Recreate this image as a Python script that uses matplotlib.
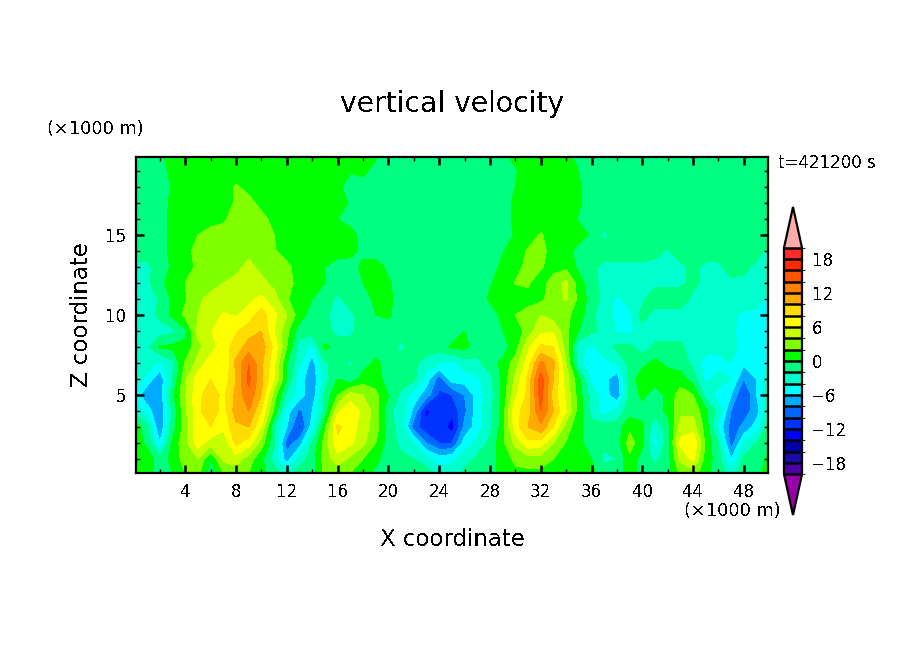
import matplotlib
matplotlib.use("Agg")
import matplotlib.pyplot as plt
from matplotlib.colors import ListedColormap, BoundaryNorm
import numpy as np

# grid, km
x_km = [0.125] + list(range(1, 50)) + [49.9]
z_km = [19.875] + list(range(19, 0, -1)) + [0.125]

w = [
    # z = 19.875
    [-1, -1, -0.5, 1, 1, 1, 1, 1, 1, 1,  1, 1, 1, 1, 1, 1, 1, 1, 1, 0.3,
     -1, -1, -1, -1, -1, -1, -1, -1, -1, -0.5,  0.5, -0.3, 1, 1, 1, -1, -1, -1, -1, -1,
     -1, -1, -1, -1, -1, -1, -1, -1, -1, -1, -1],
    # z = 19
    [-1, -1, -1, 0.6, 1, 1, 1, 1, 1, 1,  1, 1, 1, 1, 1, 1, 0.5, 0.2, 0.6, -1,
     -1, -1, -1, -1, -1, -1, -1, -1, -1, -1,  -0.2, 1, 1, 0.7, 1, 0, -1, -1, -1, -1,
     -1, -1, -1, -1, -1, -1, -1, -1, -1, -1, -1],
    # z = 18
    [-1, -1, -1, 0.2, 1, 1, 1, 1, 2.2, 1.5,  1, 1, 1, 1, 1, 1, 0.5, -1, -1, -1,
     -1, -1, -1, -1, -1, -1, -1, -1, -1, -1,  0, 1, 1, 1, 1, 0.2, -1, -1, -1, -1,
     -1, -1, -1, -1, -1, -1, -1, -1, -1, -1, -1],
    # z = 17
    [-1, -1, -1, 0.5, 1, 1, 1, 1, 2.3, 2.5,  1.5, 1, 1, 1, 1, 1, 0.8, -0.2, -1, -1,
     -1, -1, -1, -1, -1, -1, -1, -1, -1, -1,  0.5, 1, 1, 1, 1, 0.3, -1, -1, -1, -1,
     -1, -1, -1, -1, -1, -1, -1, -1, -1, -1, -1],
    # z = 16
    [-1, -1, -1, 0.7, 1, 1, 1, 1.8, 2.5, 3,  2.5, 1.5, 1, 1, 1, 1, 0, -1, -1, -1,
     -1, -1, -1, -1, -1, -1, -1, -1, -1, -1,  0.5, 1, 1, 1, 1, -0.2, -1, -1, -1, -1,
     -1, -1, -1, -1, -1, -1, -1, -1, -1, -1, -1],
    # z = 15
    [-1, -1, -1, 0.7, 1, 2, 3, 2.5, 3, 2.5,  3.5, 2, 1, 1, 1, 1, 1, 1, -1, -1,
     -1, -1, -1, -1, -1, -1, -1, -1, -1, -1,  0.2, 1, 2.2, 1, 1, 1, -0.3, -2.5, -1, -1,
     -1, -1, -1, -1, -1, -1, -1, -1, -1, -1, -1],
    # z = 14
    [-1, -1, -1, 0.7, 1.5, 2.5, 3, 3, 3.5, 3.5,  3.5, 2.2, 1, 1, 1, 1, 1, 0.7, -0.5, -1,
     -1, -1, -1, -1, -1, -1, -1, -1, -1, -0.2,  1, 2.2, 2.4, 1.5, 1, -1, -1, -1, -1, -1,
     -1, -1.5, -2.2, -1, -1, -1, -1, -1, -1, -1.2, -2.5],
    # z = 13
    [-2.5, -2.5, -1, 0.3, 1, 2.5, 3, 3, 3.5, 4.5,  3.5, 3, 2.5, 1, 1, 0, -1, -1, 0.5, 1,
     -0.5, -1, -1, -1, -1, -1, -1, -1, -1, 0.5,  1.5, 2.4, 2.2, 1.2, 1.5, -0.5, -1.5, -2.5, -2.5, -2.5,
     -2.5, -2.5, -2.5, -2.5, -1.5, -2.5, -2.5, -1, -1.5, -2.5, -3],
    # z = 12
    [-3, -2.5, -0.5, 0.8, 2, 3, 3, 4, 4.5, 5,  4.5, 3.5, 3, 1, 1, 0, -1, -1, 0, 1,
     0.3, -1, -1, -1, -1, -1, -1, -1, -0.2, 1,  2.1, 2.2, 1, 3, 4.5, 1, -1.5, -2.5, -2.5, -2.5,
     -2.5, -2.5, -2.5, -2.5, -1.5, -2.5, -2.5, -2.5, -2.5, -3, -3],
    # z = 11
    [-3, -3, -1.8, 0.5, 1.8, 3.5, 4.8, 5, 5, 5.5,  6.5, 4.8, 2.2, 0.8, 0, -1, -2.5, -1, -1, 0.5,
     0.5, -1, -1, -1, -1, -1, -1, -1, 0.3, 1,  1, 1.5, 1.5, 3.2, 4.2, 1.5, -1, -2.5, -4.5, -3,
     -2.5, -0.5, -0.5, -0.5, -2.5, -2.5, -2.5, -2.5, -2.5, -3, -4.5],
    # z = 10
    [-3.5, -3, -1.5, 0.5, 2.5, 4, 5, 6.2, 5.8, 7,  9, 6.5, 4, 1, -1, -1.5, -3, -2.5, -1, 0,
     0.3, -1, -1, -1, -1, -1, -1, -1, -1, 0.5,  2, 2.5, 4, 3, 2.5, 1, -1.5, -3.5, -4.2, -4.5,
     -1, -3, -3, -3, -3, -3, -3, -3.5, -4.5, -4.5, -5],
    # z = 9
    [-3, -3, -3, -2.5, -0.5, 4.5, 5.8, 7.5, 7.8, 9,  10, 6, 2.5, -1, -1, -1.5, -2.5, -2.5, -1, -1,
     -1, -1, -1, -1, -1, -1, 0, -1, -1, 0,  0.5, 3, 5.5, 5.8, 2.5, 0, -1.5, -2.5, -4.2, -4.5,
     -3, -3, -3, -3, -2.5, -2.5, -3, -3.5, -5, -5, -5],
    # z = 8
    [-2.5, -2.5, 0.2, 0.5, 0.5, 3.5, 5, 7.2, 8.8, 11,  11, 7.5, 2, -3, -4.5, 0.5, -1, -1, -1, -1,
     -1, -2.5, -1, -1, -1, 0.3, 0.6, -1, -1, -1,  1, 5.5, 8.5, 8, 3, -3.5, -4.5, -3, -1.5, -1.5,
     -3, -1.5, -1.5, -1.5, -3, -3, -3, -3, -5, -5, -5],
    # z = 7
    [-2.5, -2.5, -4.5, -2.5, 2.2, 4.6, 7.2, 5.8, 10.5, 14,  10.5, 6.5, 0, -3.5, -7, -2.2, -1.5, -2.2, -1, 0.5,
     -1, -1, -1.5, -2.8, -4, -4.5, -3, -2.5, -1, 0.5,  3, 7, 12.5, 10.5, 4, -3.5, -5, -4.5, -3.8, -1.5,
     -0.5, 0.5, -0.5, -1, -2.5, -5, -5, -4, -5.5, -5, -4],
    # z = 6
    [-3, -4.8, -7.5, -2, 3.5, 7, 8, 6.5, 10, 14.5,  10.5, 6, 0, -5, -7.5, -3, 0, -1.5, 1, 1,
     -1, -1, -1.5, -5, -9, -5, -5, -4.5, -2.5, 0.5,  4.5, 8.5, 15, 10, 5, 0.5, -4.5, -5.5, -7.2, -1,
     1, 1, 1, 1, -1, -4.5, -3, -4, -8, -6, -3],
    # z = 5
    [-5, -7.5, -7.5, -0.5, 3.8, 7.5, 9, 7.5, 10.5, 13.5,  10, 3, -2.5, -5, -7.5, -1.5, 2, 5, 4, 2.5,
     0, -2.5, -5, -7, -10.5, -10, -8, -5, -3, 0.5,  5.5, 8.5, 15, 9, 5.5, 1, -3, -5, -7.5, -1.5,
     0.5, -1, 0.5, 3, 2, -3, -5, -6, -10.5, -6, -2.5],
    # z = 4
    [-3, -5, -8, -1.5, 3.5, 7.5, 9.5, 7, 11, 12,  8, 1.5, -5, -8.5, -6, -1.5, 5.5, 7.5, 5.5, 3,
     -1.5, -3, -6.5, -12.6, -10.5, -11.5, -8.5, -5, -2.5, 1,  7.5, 8.8, 14, 10, 6, 1, -2.5, -5, -3.5, -1,
     -1, -1, 0.5, 3.5, 3.5, 0.5, -3, -8, -9, -7, -2.5],
    # z = 3
    [1, -1.5, -8, -1, 3, 7.8, 8, 6.5, 9.5, 10,  6, -2, -6, -10.5, -5, 1.5, 8.5, 7, 5, 3,
     -1, -3, -9, -11.5, -10.5, -13, -7.5, -5, -2.5, 1,  7, 10, 11.5, 8, 3, 0.5, -1.5, -1, -1, 1.5,
     0.5, -3.5, -1, 5, 5, 1, -4.5, -9, -7.5, -5, -1.5],
    # z = 2
    [1, -0.5, -6, 0.5, 3.5, 7, 5, 4.5, 8.5, 7,  3, -1.5, -9, -7, -2, 3, 7.5, 6.5, 4.5, 2,
     -1, -2.5, -4, -8, -10, -10, -5, -3.5, -1.5, 1.5,  4.5, 7.5, 7, 4, 1.8, 0.5, -1, -1.5, -1, 3,
     0.5, -4.8, -1, 6.5, 8, 1.5, -2, -9, -4, -2, -1],
    # z = 1
    [1.5, 1, -1, 0.5, 3, 4, 0, 4.5, 5, 3,  0.5, -3, -7, -3, -1, 3, 5, 3.5, 2, 0.5,
     -1, -1.5, -2, -3.5, -5, -4.5, -3, -1.5, -1, 0.8,  2.5, 3, 3, 2, 1, 0.5, 0, -2.5, -2, 1.5,
     -1, -2.5, -1, 4.5, 6.5, 1, -1, -6, -1.5, -1, 0.5],
    # z = 0.125
    [1, 1, -1, 0, 2, 2.5, -1, 2, 3, 2,  0.5, -1, -3, -1, -1, 2.5, 3, 2, 1, -0.5,
     -1, -1, -1, -1, -3, -3, -1.5, -1, -1, 1,  1.5, 1.5, 1.5, 1, 1, 1, 0.5, -1, -1, 1,
     -1, -1, -1, 2.5, 3, 0.5, -1, -3, -1, -1, 1],
]

levels = list(range(-20, 21, 2))
colors = ["#4b00a8", "#1a0aa8", "#0000a8", "#0000ff", "#0033ff", "#0066ff", "#00aaff",
          "#00ffff", "#00ffcc", "#00ff80", "#00ff00", "#80ff00", "#c8ff00", "#ffff00",
          "#ffdd00", "#ffaa00", "#ff8000", "#ff5500", "#ff2a00", "#ff2a2a"]
under_color = "#9900aa"
over_color = "#ffaaaa"
cbar_ticks = [-18, -12, -6, 0, 6, 12, 18]

W, H = 904, 654
plt.rcParams["text.antialiased"] = False


def px(x, y):
    return x / W, 1 - y / H


fig = plt.figure(figsize=(W / 100, H / 100), dpi=100)
ax = fig.add_axes([136 / W, 1 - 473 / H, (768 - 136) / W, (473 - 157) / H])

cmap = ListedColormap(colors)
cmap.set_under(under_color)
cmap.set_over(over_color)
norm = BoundaryNorm(levels, cmap.N)
cf = ax.contourf(x_km, z_km, np.array(w), levels=levels, cmap=cmap, norm=norm, extend="both")

ax.set_xlim(0.125, 49.9)
ax.set_ylim(0.125, 19.875)
ax.set_xticks(range(4, 49, 4))
ax.set_xticks(range(2, 50, 2), minor=True)
ax.set_yticks([5, 10, 15])
ax.set_yticks(range(1, 20), minor=True)
ax.tick_params(which="major", direction="in", top=True, right=True, length=6, width=1.8,
               labelsize=12, pad=7)
ax.tick_params(which="minor", direction="in", top=True, right=True, length=3, width=1)
for s in ax.spines.values():
    s.set_linewidth(1.6)

cax = fig.add_axes([784 / W, 1 - 515 / H, 18 / W, (515 - 207) / H])
cb = fig.colorbar(cf, cax=cax, extend="both", extendfrac=0.18, drawedges=True, ticks=cbar_ticks)
cb.dividers.set_linewidth(1.8)
cb.dividers.set_color("black")
cb.outline.set_linewidth(1.6)
cax.tick_params(length=0, labelsize=12, pad=7)

fig.text(*px(452, 104), "vertical velocity", fontsize=20.3, ha="center", va="center")
fig.text(*px(452, 539), "X coordinate", fontsize=16.5, ha="center", va="center")
fig.text(*px(82, 315), "Z coordinate", fontsize=16.5, ha="center", va="center", rotation=90)
fig.text(*px(95, 129), "(×1000 m)", fontsize=12.8, ha="center", va="center")
fig.text(*px(732, 511), "(×1000 m)", fontsize=12.8, ha="center", va="center")
fig.text(*px(827, 163), "t=421200 s", fontsize=12, ha="center", va="center")

fig.savefig("out.png", dpi=100)
